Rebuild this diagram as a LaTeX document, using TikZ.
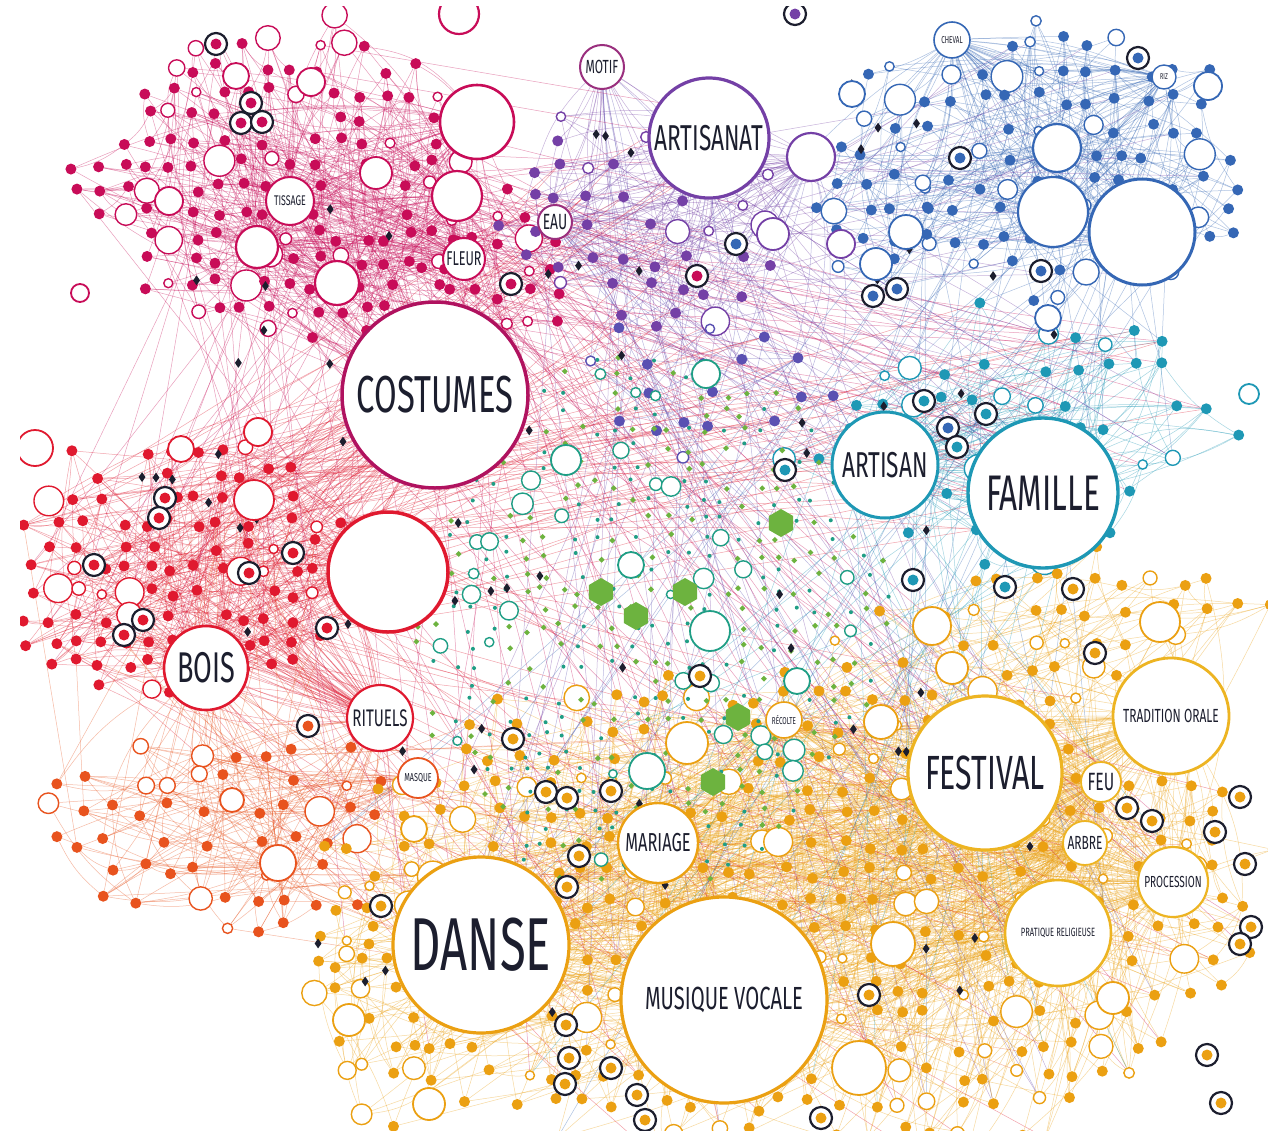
\documentclass[tikz,border=0pt]{standalone}
\usepackage{fontspec}
\newfontfamily\lbl{Fira Sans}[FakeStretch=0.63]
\usetikzlibrary{shapes.geometric}

\definecolor{mag}{HTML}{C80C58}
\definecolor{magring}{HTML}{B0125F}
\definecolor{grape}{HTML}{9A2F7E}
\definecolor{plum}{HTML}{7440A6}
\definecolor{iris}{HTML}{5A50B2}
\definecolor{cobalt}{HTML}{3567B5}
\definecolor{lagoon}{HTML}{1E98B5}
\definecolor{jade}{HTML}{1F9E85}
\definecolor{crim}{HTML}{E0192F}
\definecolor{ember}{HTML}{E8531E}
\definecolor{amber}{HTML}{EBA012}
\definecolor{gold}{HTML}{EDB422}
\definecolor{leaf}{HTML}{6DB33F}
\definecolor{ink}{HTML}{1C1E2E}

\newcount\dotcount

\pgfdeclarelayer{edges}
\pgfsetlayers{edges,main}

\tikzset{
  dot/.style={circle, fill=#1, inner sep=0pt, minimum size=11pt},
  ring/.style={circle, draw=#1, fill=white, line width=1.4pt, inner sep=0pt},
  hub/.style={circle, draw=#1, fill=white, line width=2.2pt, inner sep=0pt, text=ink},
  sz/.style={font=\lbl\fontsize{#1}{#1}\selectfont},
  link/.style={draw=#1, line width=0.5pt, opacity=0.4},
  halo/.style={circle, draw=ink, fill=white, line width=2.2pt, inner sep=0pt, minimum size=22pt},
  kite/.style={diamond, fill=#1, inner sep=0pt, minimum width=7pt, minimum height=10pt},
  speck/.style={circle, fill=jade, inner sep=0pt, minimum size=4pt},
  hexa/.style={regular polygon, regular polygon sides=6, regular polygon rotate=30, fill=leaf, inner sep=0pt, minimum size=28pt},
}

\begin{document}
\begin{tikzpicture}[x=1pt, y=-1pt]
\useasboundingbox (0,0) rectangle (1268,1130);
\begin{pgfonlayer}{edges}
  \fill[white] (0,0) rectangle (1268,1130);
\end{pgfonlayer}
\clip (20,6) rectangle (1268,1130);

\pgfmathsetseed{31}
% clusters of theme dots
\foreach \p/\cx/\cy/\rx/\ry/\s/\col/\f/\q in {
  mg/285/185/210/165/24/mag/0.8/0.85,
  mb/505/280/80/90/26/mag/0.75/0.8,
  pu/650/215/150/135/30/plum/0.8/0.75,
  pm/700/385/140/80/30/iris/0.75/0.55,
  bl/1080/165/185/150/28/cobalt/0.75/0.85,
  bk/880/190/70/150/28/cobalt/0.7/0.8,
  tq/1030/440/245/135/32/lagoon/0.75/0.7,
  rd/185/565/180/140/24/crim/0.8/0.85,
  rr/220/835/200/115/30/ember/0.75/0.75,
  or/800/905/480/265/29/amber/0.8/0.85,
  ou/1080/620/200/70/30/amber/0.8/0.8,
  ol/385/1000/70/140/26/amber/0.75/0.85}{
  \global\dotcount=0
  \pgfmathsetmacro\xa{\cx-\rx}
  \pgfmathsetmacro\xb{\cx-\rx+\s}
  \pgfmathsetmacro\xc{\cx+\rx}
  \pgfmathsetmacro\ya{\cy-\ry}
  \pgfmathsetmacro\yb{\cy-\ry+\s}
  \pgfmathsetmacro\yc{\cy+\ry}
  \foreach \gx in {\xa,\xb,...,\xc}{
    \foreach \gy in {\ya,\yb,...,\yc}{
      \pgfmathtruncatemacro\ok{((((\gx-\cx)/\rx)^2+((\gy-\cy)/\ry)^2) < 0.7+0.4*rnd) && (rnd < \q)}
      \ifnum\ok=1
        \global\advance\dotcount by 1
        \pgfmathsetmacro\px{\gx+0.25*\s*rand}
        \pgfmathsetmacro\py{\gy+0.25*\s*rand}
        \pgfmathtruncatemacro\kind{rnd < \f}
        \ifnum\kind=1
          \node[dot=\col] (\p\the\dotcount) at (\px,\py) {};
        \else
          \pgfmathsetmacro\sz{9+24*rnd^2}
          \node[ring=\col, minimum size=\sz pt] (\p\the\dotcount) at (\px,\py) {};
        \fi
      \fi
    }
  }
  \expandafter\xdef\csname n\p\endcsname{\the\dotcount}
}

% green and teal specks in the middle
\global\dotcount=0
\foreach \gx in {400,418,...,900}{
  \foreach \gy in {340,358,...,900}{
    \pgfmathtruncatemacro\ok{(((\gx-650)/245)^2+((\gy-620)/270)^2) < 0.8+0.3*rnd}
    \ifnum\ok=1
      \global\advance\dotcount by 1
      \pgfmathsetmacro\px{\gx+5*rand}
      \pgfmathsetmacro\py{\gy+5*rand}
      \pgfmathsetmacro\kind{rnd}
      \ifdim\kind pt<0.36pt
        \node[kite=leaf, minimum width=6pt, minimum height=6pt] (gc\the\dotcount) at (\px,\py) {};
      \else\ifdim\kind pt<0.66pt
        \node[speck] (gc\the\dotcount) at (\px,\py) {};
      \else\ifdim\kind pt<0.72pt
        \pgfmathsetmacro\sz{8+14*rnd}
        \node[ring=jade, minimum size=\sz pt] (gc\the\dotcount) at (\px,\py) {};
      \fi\fi\fi
    \fi
  }
}

% black diamonds
\foreach \k in {1,...,85}{
  \pgfmathsetmacro\ang{360*rnd}
  \pgfmathsetmacro\rad{sqrt(rnd)}
  \node[kite=ink] (dk\k) at ({650+560*\rad*cos(\ang)},{560+520*\rad*sin(\ang)}) {};
}

% hexagons
\foreach \x/\y [count=\k] in {781/523, 601/592, 636/616, 685/592, 738/717, 713/782}
  \node[hexa] (hx\k) at (\x,\y) {};

% open rings
\foreach \x/\y/\d/\col [count=\k] in {1208/86/28/cobalt, 906/232/34/cobalt, 852/94/26/cobalt,
    876/264/32/cobalt, 841/244/28/plum, 773/234/32/plum, 1048/318/26/cobalt, 1249/394/20/lagoon,
    566/460/30/jade, 706/374/28/jade, 710/631/40/jade, 647/771/36/jade, 797/681/26/jade,
    631/565/26/jade, 687/743/42/amber, 932/626/38/amber, 1160/622/40/amber, 952/668/32/amber,
    881/722/34/amber, 893/944/44/amber, 859/1068/54/amber, 1113/998/32/amber, 349/1020/32/amber,
    429/1104/32/amber, 414/829/26/amber, 232/800/24/ember, 254/500/40/crim, 258/432/28/crim,
    181/449/26/crim, 35/448/36/crim, 376/173/32/mag, 311/82/28/mag, 236/76/26/mag,
    169/201/28/mag, 80/293/18/mag}
  \node[ring=\col, line width=1.8pt, minimum size=\d pt] (big\k) at (\x,\y) {};

% highlighted dots
\foreach \x/\y/\col [count=\k] in {216/44/mag, 251/103/mag, 241/123/mag, 262/122/mag, 511/284/mag,
    697/276/mag, 795/14/plum, 736/244/cobalt, 960/158/cobalt, 1138/58/cobalt, 873/296/cobalt,
    897/289/cobalt, 1041/271/cobalt, 924/401/lagoon, 948/428/cobalt, 957/447/lagoon, 986/414/lagoon,
    785/470/lagoon, 913/580/lagoon, 1005/587/lagoon, 165/498/crim, 159/518/crim, 94/565/crim,
    249/573/crim, 293/553/crim, 143/620/crim, 124/635/crim, 327/628/crim, 308/726/ember,
    1073/589/amber, 1095/653/amber, 700/676/amber, 513/739/amber, 546/792/amber, 567/798/amber,
    611/791/amber, 579/856/amber, 567/887/amber, 381/906/amber, 1127/808/amber, 1152/821/amber,
    1215/832/amber, 1240/797/amber, 1245/864/amber, 1251/927/amber, 1240/944/amber, 869/995/amber,
    566/1025/amber, 569/1058/amber, 565/1084/amber, 611/1068/amber, 637/1095/amber, 645/1120/amber,
    821/1118/amber, 1207/1055/amber, 1221/1103/amber}{
  \node[halo] (hl\k) at (\x,\y) {};
  \node[dot=\col] (hd\k) at (hl\k) {};
}

% theme hubs
\node[hub=magring, line width=3.5pt, minimum size=186pt, sz=52, alias=mgh1, alias=rdh4] (costumes) at (435,395) {COSTUMES};
\node[hub=mag, line width=2pt, minimum size=48pt, sz=14, alias=mgh2] (tissage) at (290,201) {TISSAGE};
\node[hub=mag, line width=2pt, minimum size=42pt, sz=20, alias=mgh3] (fleur) at (464,259) {FLEUR};
\node[hub=mag, line width=2.6pt, minimum size=74pt, alias=mgh4] (mgbigA) at (477,122) {};
\node[hub=mag, minimum size=50pt, alias=mgh5] (mgbigB) at (457,196) {};
\node[hub=mag, minimum size=44pt, alias=mgh6] (mgbigC) at (337,283) {};
\node[hub=mag, minimum size=42pt, alias=mgh7] (mgbigD) at (257,247) {};
\node[hub=mag, minimum size=40pt] (mgbigE) at (459,14) {};

\node[hub=plum, line width=3.2pt, minimum size=120pt, sz=36, alias=puh1] (artisanat) at (709,138) {ARTISANAT};
\node[hub=grape, line width=2pt, minimum size=44pt, sz=19, alias=puh2] (motif) at (602,67) {MOTIF};
\node[hub=grape, line width=2pt, minimum size=34pt, sz=22, alias=puh3] (eau) at (555,222) {EAU};
\node[hub=plum, minimum size=48pt, alias=puh4] (pubig) at (811,157) {};

\node[hub=cobalt, minimum size=70pt, alias=blh1] (blbigA) at (1053,212) {};
\node[hub=cobalt, line width=3pt, minimum size=106pt, alias=blh2] (blbigB) at (1142,232) {};
\node[hub=cobalt, minimum size=48pt, alias=blh3] (blbigC) at (1057,148) {};
\node[hub=cobalt, line width=1.6pt, minimum size=36pt, sz=10, alias=blh4] (cheval) at (952,40) {CHEVAL};
\node[hub=cobalt, line width=1.4pt, minimum size=24pt, sz=8.5, alias=blh5] (riz) at (1164,77) {RIZ};

\node[hub=lagoon, line width=3pt, minimum size=106pt, sz=36, alias=tqh1] (artisan) at (885,465) {ARTISAN};
\node[hub=lagoon, line width=3.4pt, minimum size=150pt, sz=50, alias=tqh2] (famille) at (1043,493) {FAMILLE};

\node[hub=crim, line width=3.5pt, minimum size=120pt, alias=rdh1] (rdbig) at (388,572) {};
\node[hub=crim, line width=2.6pt, minimum size=84pt, sz=43, alias=rdh2, alias=rrh4] (bois) at (206,668) {BOIS};
\node[hub=crim, line width=2.2pt, minimum size=66pt, sz=24, alias=rdh3, alias=rrh3] (rituels) at (380,718) {RITUELS};
\node[hub=ember, line width=1.8pt, minimum size=40pt, sz=11.5, alias=rrh2] (masque) at (418,778) {MASQUE};
\node[hub=ember, line width=1.8pt, minimum size=36pt, alias=rrh1] (rrbig) at (278,863) {};

\node[hub=amber, line width=3.2pt, minimum size=176pt, sz=75, alias=orh1] (danse) at (481,945) {DANSE};
\node[hub=amber, line width=3.2pt, minimum size=206pt, sz=32, alias=orh2] (musique) at (724,1000) {MUSIQUE VOCALE};
\node[hub=amber, line width=2.4pt, minimum size=80pt, sz=26, alias=orh3] (mariage) at (658,843) {MARIAGE};
\node[hub=gold, line width=3.2pt, minimum size=154pt, sz=48, alias=orh4] (festival) at (985,773) {FESTIVAL};
\node[hub=gold, line width=2.8pt, minimum size=116pt, sz=19, alias=orh5] (tradition) at (1171,716) {TRADITION ORALE};
\node[hub=gold, line width=2.6pt, minimum size=106pt, sz=12, alias=orh6] (pratique) at (1058,933) {PRATIQUE RELIGIEUSE};
\node[hub=gold, line width=2.2pt, minimum size=70pt, sz=16, alias=orh7] (procession) at (1173,882) {PROCESSION};
\node[hub=gold, line width=1.8pt, minimum size=44pt, sz=19, alias=orh8] (arbre) at (1085,843) {ARBRE};
\node[hub=gold, line width=1.8pt, minimum size=40pt, sz=25, alias=orh9] (feu) at (1101,782) {FEU};
\node[hub=amber, line width=1.6pt, minimum size=36pt, sz=10, alias=orh10] (recolte) at (784,720) {RÉCOLTE};

% links
\begin{pgfonlayer}{edges}
\clip (20,6) rectangle (1268,1130);
\foreach \p/\h/\nh/\col in {mg/mgh/7/mag, mb/mgh/7/mag, pu/puh/4/plum, pm/puh/4/iris,
    bl/blh/5/cobalt, bk/blh/5/cobalt, tq/tqh/2/lagoon, rd/rdh/4/crim, rr/rrh/4/ember,
    or/orh/10/amber, ou/orh/10/amber, ol/orh/10/amber}{
  \edef\n{\csname n\p\endcsname}
  \foreach \i in {1,...,\n}{
    \pgfmathtruncatemacro\k{random(1,\nh)}
    \pgfmathtruncatemacro\m{random(1,\nh)}
    \pgfmathtruncatemacro\j{mod(\i+random(1,14)-1,\n)+1}
    \pgfmathsetmacro\w{random(-20,20)}
    \draw[link=\col] (\p\i) to[bend left=\w] (\h\k);
    \draw[link=\col] (\p\i) to[bend right=\w] (\h\m);
    \draw[link=\col] (\p\i) to[bend right=12] (\p\j);
  }
}
\foreach \fa/\fb/\col/\nl in {mg/rd/mag/30, mg/pu/mag/30, mg/tq/mag/35, mg/or/mag/35,
    rd/or/crim/40, rd/tq/crim/35, rd/pu/crim/25, rd/pm/crim/25, pu/bl/plum/25, pu/tq/plum/25,
    pu/or/plum/25, pm/or/iris/25, bl/tq/cobalt/25, bl/or/cobalt/20, tq/or/lagoon/30,
    rr/or/ember/30, rr/rd/ember/25, mb/or/mag/25}{
  \edef\na{\csname n\fa\endcsname}
  \edef\nb{\csname n\fb\endcsname}
  \foreach \i in {1,...,\nl}{
    \pgfmathtruncatemacro\ia{random(1,\na)}
    \pgfmathtruncatemacro\ib{random(1,\nb)}
    \draw[link=\col] (\fa\ia) -- (\fb\ib);
  }
}
\end{pgfonlayer}
\end{tikzpicture}
\end{document}
